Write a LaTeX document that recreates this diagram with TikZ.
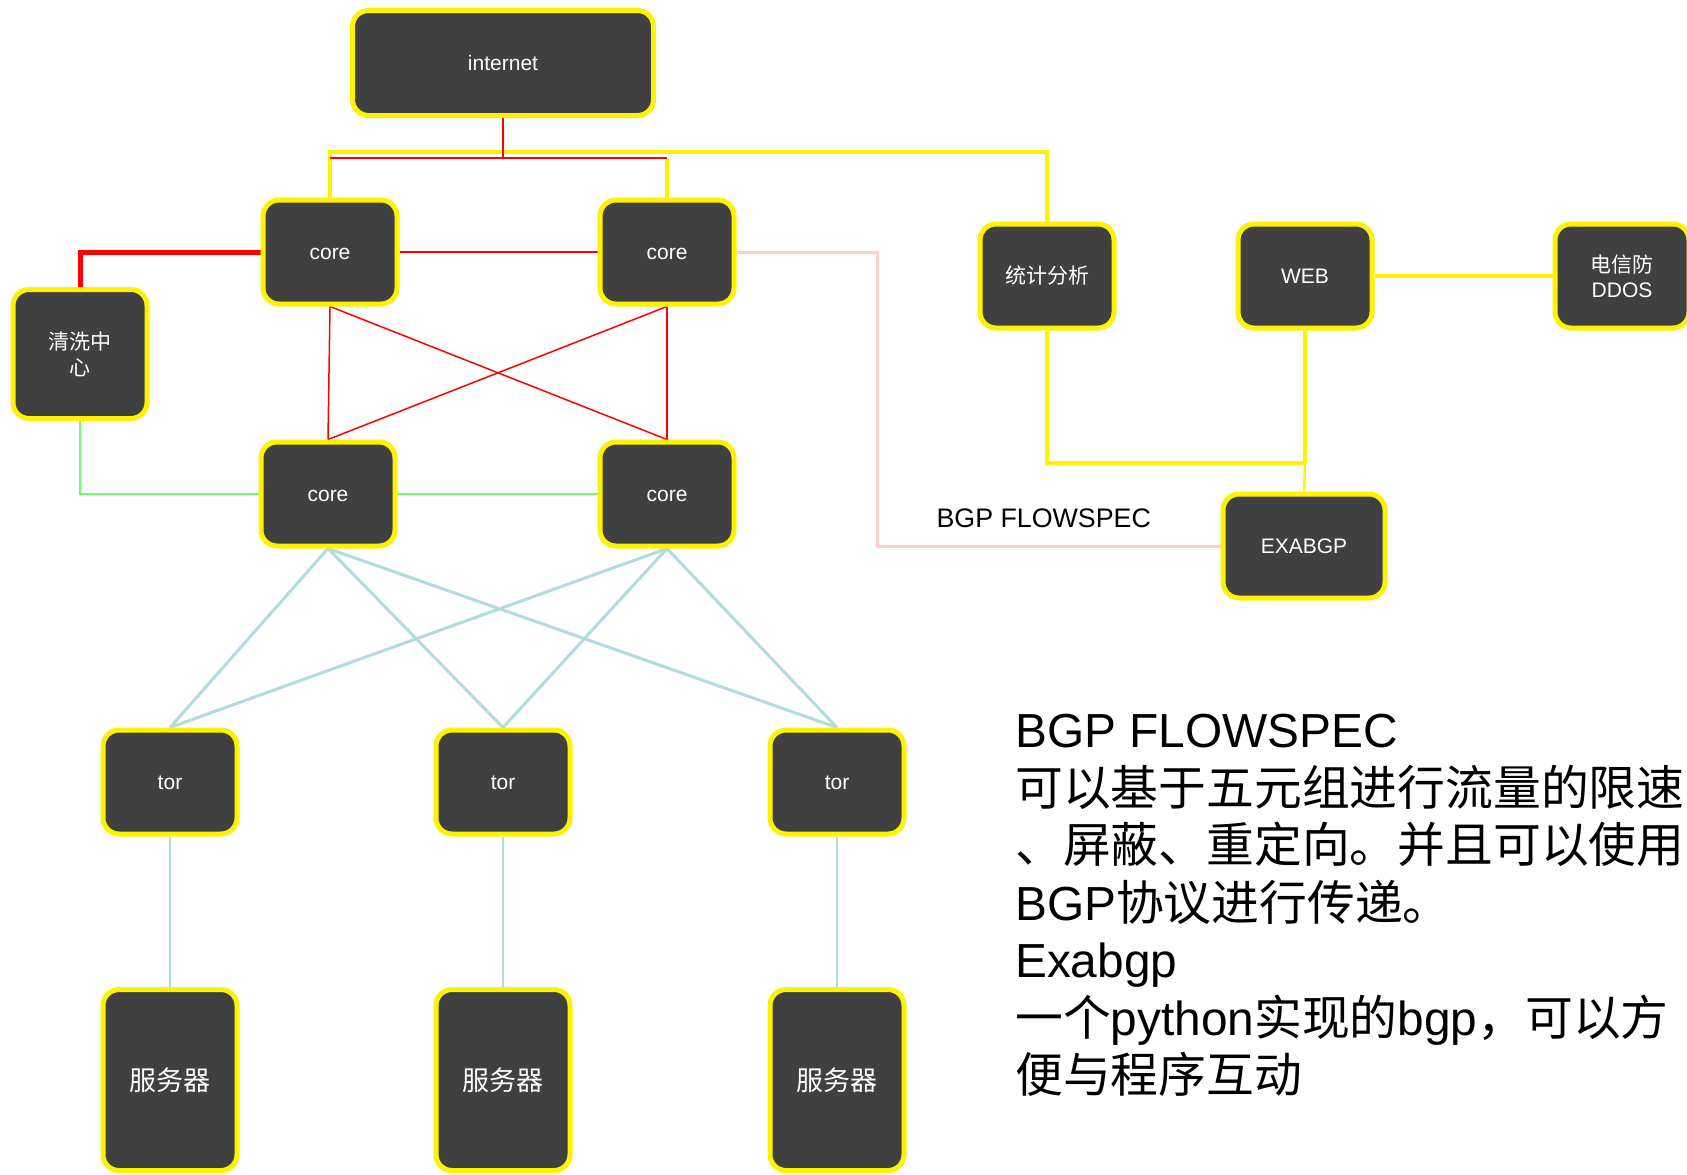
\documentclass[tikz,border=0pt]{standalone}
\usepackage{fontspec}
\setmainfont{Liberation Sans}
\newfontfamily\cjk{Noto Sans CJK SC}
\usepackage{tikz}
\usetikzlibrary{backgrounds}

\definecolor{boxgray}{HTML}{404040}
\definecolor{linkgreen}{HTML}{66FF66}
\definecolor{linkpink}{HTML}{FFCCCC}
\definecolor{linkblue}{HTML}{B0DCE0}

\begin{document}
\begin{tikzpicture}[x=1pt, y=-1pt,
  box/.style={draw=yellow, line width=5pt, fill=boxgray, rounded corners=16pt, text=white,
    align=center, inner sep=0pt, minimum width=134pt, minimum height=104pt,
    font=\fontsize{21}{25}\selectfont},
  latinbox/.style={box, text height=19pt, text depth=4.5pt},
  cjkbox/.style={box, font=\cjk\fontsize{21}{26}\selectfont},
  redlink/.style={draw=red, line width=1.5pt},
  yellink/.style={draw=yellow, line width=3.5pt},
  bluelink/.style={draw=linkblue, line width=3pt}]
  \useasboundingbox (0,0) rectangle (1687,1175);

  \node[latinbox, minimum width=301pt, minimum height=105pt] (inet) at (503,63) {internet};
  \node[latinbox] (coreA) at (330,252) {core};
  \node[latinbox] (coreB) at (667,252) {core};
  \node[cjkbox, minimum height=129pt] (clean) at (80,354) {清洗中\\心};
  \node[latinbox] (coreC) at (328,494) {core};
  \node[latinbox] (coreD) at (667,494) {core};
  \node[cjkbox] (stat) at (1047,276) {统计分析};
  \node[latinbox] (web) at (1305,276) {WEB};
  \node[box] (ddos) at (1622,276) {{\cjk 电信防}\\DDOS};
  \node[latinbox, minimum width=162pt] (exa) at (1304,546) {EXABGP};
  \foreach \i/\x in {1/170, 2/503, 3/837} {
    \node[latinbox] (tor\i) at (\x,782) {tor};
    \node[box, minimum height=181pt, font=\cjk\fontsize{27}{30}\selectfont] (srv\i) at (\x,1080) {服务器};
  }

  \coordinate (bus) at (503,152);
  \coordinate (split) at (503,158);
  \coordinate (bend) at (877,0);
  \coordinate (join) at (1305,463);

  \begin{scope}[on background layer]
    % uplinks
    \draw[yellink] (coreA.north) |- (bus) -| (stat.north);
    \draw[yellink] (coreB.north) -- (coreB.north |- split);
    \draw[redlink] (inet.south) -- (split);
    \draw[redlink] (coreA.north |- split) -- (coreB.north |- split);
    % core mesh
    \path[redlink]
      (coreA.east) edge (coreB.west)
      (coreA.south) edge (coreC.north)
      (coreA.south) edge (coreD.north)
      (coreB.south) edge (coreC.north)
      (coreB.south) edge (coreD.north);
    \draw[draw=red, line width=5pt] (coreA.west) -| (clean.north);
    \draw[draw=linkgreen, line width=2pt] (clean.south) |- (coreC.west) -- (coreD.west);
    \draw[draw=linkpink, line width=3pt] (coreB.east) -| (bend |- exa.west)
      -- node[above=17pt, xshift=-5pt, inner sep=0pt, font=\fontsize{26.8}{30}\selectfont] {BGP FLOWSPEC} (exa.west);
    % monitoring
    \draw[yellink, line width=4pt] (stat.south) |- (join);
    \draw[yellink, line width=4pt] (web.south) -- (join);
    \draw[yellink, line width=2.5pt] (join) -- (exa.north);
    \draw[yellink] (web.east) -- (ddos.west);
    % access
    \foreach \i in {1,2,3} {
      \path[bluelink] (coreC.south) edge (tor\i.north)
        (coreD.south) edge (tor\i.north);
      \draw[draw=linkblue, line width=1.5pt] (tor\i.south) -- (srv\i.north);
    }
  \end{scope}

  \node[anchor=north west, align=left, inner sep=0pt, font=\fontsize{47.8}{57.5}\selectfont] (note) at (1015,714)
    {BGP FLOWSPEC\\{\cjk 可以基于五元组进行流量的限速}\\{\cjk 、屏蔽、重定向。并且可以使用}\\BGP{\cjk 协议进行传递。}\\Exabgp\\{\cjk 一个}python{\cjk 实现的}bgp{\cjk ，可以方}\\{\cjk 便与程序互动}};
\end{tikzpicture}
\end{document}
